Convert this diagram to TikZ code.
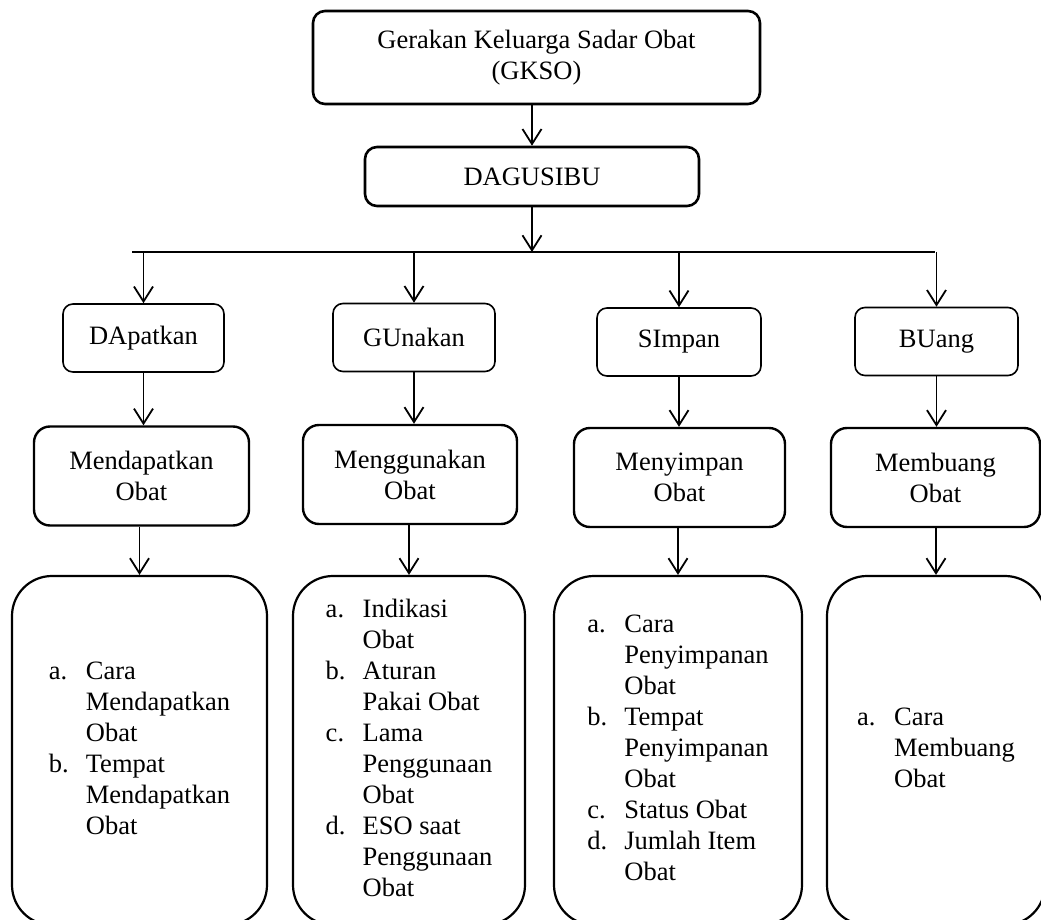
\documentclass[tikz,border=0pt]{standalone}
\usepackage{fontspec}
\setmainfont{Liberation Serif}
\usetikzlibrary{arrows.meta}

\begin{document}
\begin{tikzpicture}[x=0.5pt,y=-0.5pt,font=\fontsize{13.25}{15.5}\selectfont,
    kotak/.style={draw,rounded corners=6pt,line width=1.3pt,align=center,inner sep=0pt},
    kecil/.style={draw,rounded corners=5pt,line width=0.8pt,align=center,inner sep=0pt,minimum height=34pt},
    tengah/.style={draw,rounded corners=8pt,line width=1.2pt,align=center,inner sep=0pt,minimum height=49.5pt},
    daftar/.style={draw,rounded corners=20pt,line width=1.1pt,inner sep=0pt,minimum height=174.5pt},
    panah/.style={-{Straight Barb[length=7.5pt,width=9.5pt]},line width=0.9pt}]
        \useasboundingbox (0,0) rectangle (1041,920);
        \node[kotak,minimum width=223.5pt,minimum height=46.5pt] (gkso) at (536.5,57.5) {Gerakan Keluarga Sadar Obat\\(GKSO)};
        \node[kotak,minimum width=167pt,minimum height=29.5pt] (dagusibu) at (532,176.5) {DAGUSIBU};
        \coordinate (kiri) at (132,252); \coordinate (kanan) at (935,252);
        \node[kecil,minimum width=80.5pt] (dapat) at (143.5,338) {DApatkan}; \node[kecil,minimum width=81pt] (guna) at (414,337.5) {GUnakan}; \node[kecil,minimum width=82pt] (simpan) at (679,342) {SImpan}; \node[kecil,minimum width=81.5pt] (buang) at (936.5,341.5) {BUang};
        \node[tengah,minimum width=107.5pt] (mdapat) at (141.5,476) {Mendapatkan\\Obat}; \node[tengah,minimum width=107pt] (mguna) at (410,474.5) {Menggunakan\\Obat}; \node[tengah,minimum width=105.5pt] (msimpan) at (679.5,477.5) {Menyimpan\\Obat}; \node[tengah,minimum width=104.5pt] (mbuang) at (935.5,477.5) {Membuang\\Obat};
        \node[daftar,minimum width=127.5pt] (ldapat) at (139.5,750.5) {\begin{tabular}{@{}p{18.5pt}@{}l@{}} a. & Cara\\ & Mendapatkan\\ & Obat\\ b. & Tempat\\ & Mendapatkan\\ & Obat \end{tabular}};
        \node[daftar,minimum width=116pt] (lguna) at (409,750.5) {\begin{tabular}{@{}p{18.5pt}@{}l@{}} a. & Indikasi\\ & Obat\\ b. & Aturan\\ & Pakai Obat\\ c. & Lama\\ & Penggunaan\\ & Obat\\ d. & ESO saat\\ & Penggunaan\\ & Obat \end{tabular}};
        \node[daftar,minimum width=124pt] (lsimpan) at (678,750.5) {\begin{tabular}{@{}p{18.5pt}@{}l@{}} a. & Cara\\ & Penyimpanan\\ & Obat\\ b. & Tempat\\ & Penyimpanan\\ & Obat\\ c. & Status Obat\\ d. & Jumlah Item\\ & Obat \end{tabular}};
        \node[daftar,minimum width=109pt] (lbuang) at (936,750.5) {\begin{tabular}{@{}p{18.5pt}@{}l@{}} a. & Cara\\ & Membuang\\ & Obat \end{tabular}};
        \draw[panah] (gkso.south -| dagusibu.north) -- (dagusibu.north); \draw[panah] (dagusibu.south) -- (dagusibu.south |- kiri); \draw[line width=0.9pt] (kiri) -- (kanan);
        \draw[panah] (dapat.north |- kiri) -- (dapat.north); \draw[panah] (guna.north |- kiri) -- (guna.north); \draw[panah] (simpan.north |- kiri) -- (simpan.north); \draw[panah] (buang.north |- kanan) -- (buang.north);
        \draw[panah] (dapat.south) -- (dapat.south |- mdapat.north); \draw[panah] (guna.south) -- (guna.south |- mguna.north); \draw[panah] (simpan.south) -- (simpan.south |- msimpan.north); \draw[panah] (buang.south) -- (buang.south |- mbuang.north);
        \draw[panah] (mdapat.south -| ldapat.north) -- (ldapat.north); \draw[panah] (mguna.south -| lguna.north) -- (lguna.north); \draw[panah] (msimpan.south -| lsimpan.north) -- (lsimpan.north); \draw[panah] (mbuang.south -| lbuang.north) -- (lbuang.north);
    \end{tikzpicture}
\end{document}
